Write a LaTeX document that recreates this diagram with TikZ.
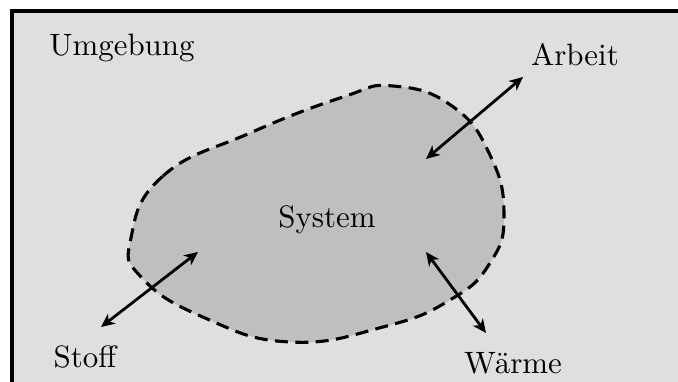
\documentclass[tikz,border=0pt]{standalone}
\usepackage{fontspec}
\usetikzlibrary{arrows.meta}
\tikzset{
  env/.style={draw, line width=1pt, fill=black!12.5},
  bound/.style={draw, dash pattern=on 4.2pt off 2.4pt, line width=1pt, fill=black!25},
  arr/.style={{Stealth[length=4.4pt, width=4pt, inset=1.3pt]}-{Stealth[length=4.4pt, width=4pt, inset=1.3pt]}, line width=0.9pt},
  lbl/.style={inner sep=0pt},
}
\begin{document}
\begin{tikzpicture}[x=0.3236pt, y=-0.3236pt]
  \useasboundingbox (0,0) rectangle (678,382);
  \clip (0,0) rectangle (678,382);
  \path[env] (12,11) rectangle (700,400);
  \path[bound] plot[smooth cycle, tension=0.8] coordinates {
    (131,238) (163,176) (250,133) (343,97) (393,86) (452,106)
    (490,155) (504,215) (490,263) (450,300) (383,327)
    (290,342) (205,318) (142,278)};
  \node[lbl] (umg) at (122,47.5) {Umgebung};
  \node[lbl] (sys) at (327,220) {System};
  \node[lbl] (arb) at (575,54.5) {Arbeit};
  \node[lbl] (stf) at (85,356.5) {Stoff};
  \node[lbl] (wrm) at (513,363.5) {Wärme};
  \coordinate (arbout) at (523,77);
  \coordinate (arbin) at (426,159);
  \coordinate (stfout) at (101,327);
  \coordinate (stfin) at (198,252);
  \coordinate (wrmin) at (426,252);
  \coordinate (wrmout) at (486,333);
  \draw[arr] (arbin) -- (arbout);
  \draw[arr] (stfout) -- (stfin);
  \draw[arr] (wrmin) -- (wrmout);
\end{tikzpicture}
\end{document}
